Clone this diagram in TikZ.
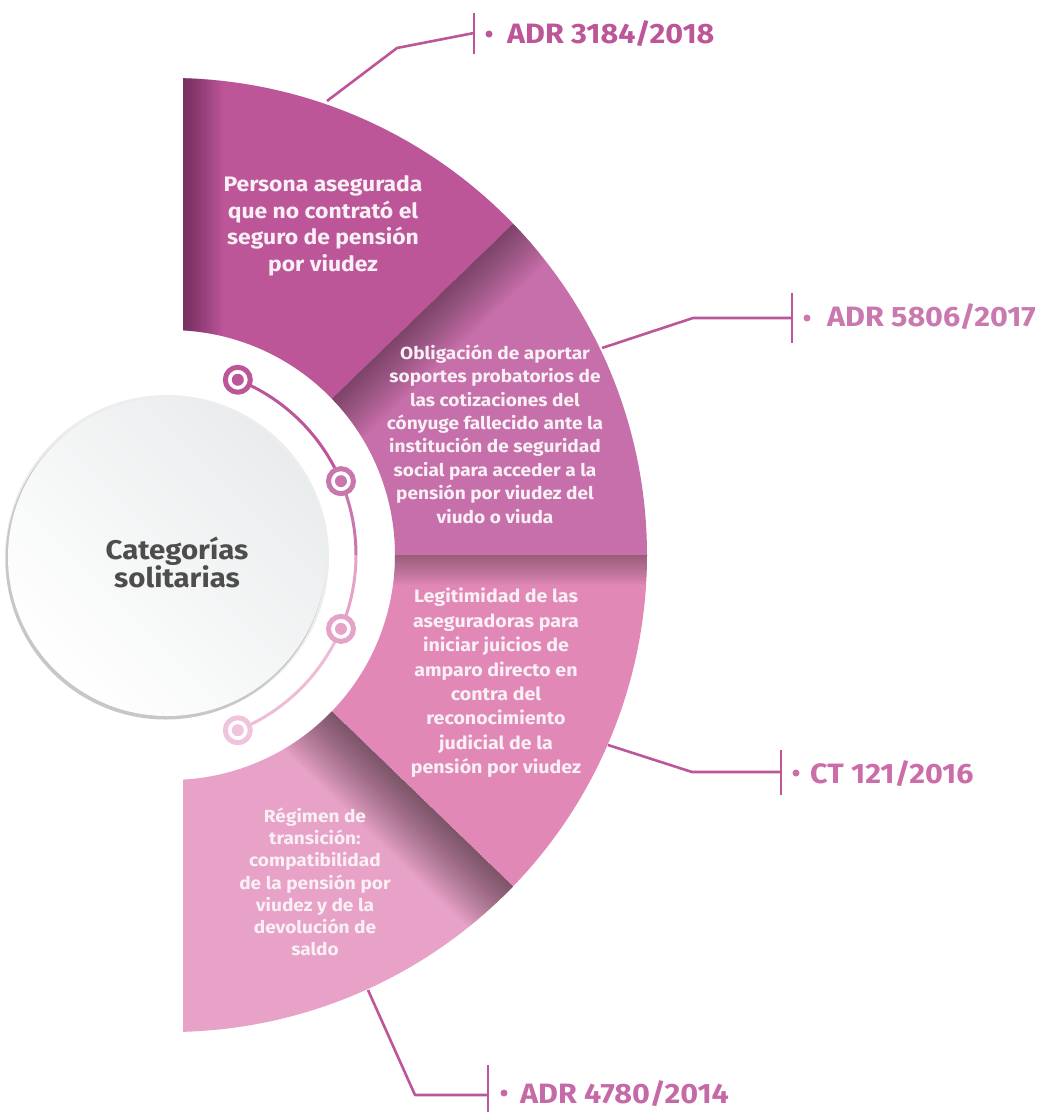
\documentclass[tikz,border=0pt]{standalone}
\usepackage{fontspec}
\setmainfont{Fira Sans}[FakeStretch=1.09]
\begin{document}
\begin{tikzpicture}[x=1pt,y=1pt,line join=round]
\definecolor{segA}{HTML}{BD5599}
\definecolor{segB}{HTML}{C66FAA}
\definecolor{segC}{HTML}{E188B6}
\definecolor{segD}{HTML}{E8A2C7}
\definecolor{arcA}{HTML}{BD5599}
\definecolor{arcB}{HTML}{C877AE}
\definecolor{arcC}{HTML}{E6A3C9}
\definecolor{arcD}{HTML}{EEBCD8}
\definecolor{ringD}{HTML}{F0C4DD}
\definecolor{labA}{HTML}{BD5599}
\definecolor{labB}{HTML}{C978B0}
\definecolor{labC}{HTML}{CC6CA8}
\definecolor{labD}{HTML}{C56AA7}
\definecolor{segtext}{HTML}{F8F0F5}
\definecolor{hubtext}{HTML}{4D4D4D}
\definecolor{hubtop}{HTML}{E9ECED}
\tikzset{
  segtxt/.style={align=center,text=segtext,inner sep=0pt,font=\bfseries},
  lead/.style={draw=segA,line width=2.6pt},
  tick/.style={draw=segA,line width=2.8pt},
  bullet/.style={circle,fill=#1,minimum size=7pt,inner sep=0pt},
  reflabel/.style={anchor=base west,inner sep=0pt,font=\fontsize{28}{32}\selectfont\bfseries},
  ringmark/.style={circle,draw=#1,line width=5pt,fill=white,minimum size=25pt,inner sep=0pt,
    path picture={\fill[#1] (path picture bounding box.center) circle[radius=6];}},
}
\useasboundingbox (0,0) rectangle (1037,-1112);
\fill[white] (0,0) rectangle (1037,-1112);

% centre of the half ring
\coordinate (C) at (170,-555);
\def\Ro{477}
\def\Ri{225}
\def\sector#1#2{([shift={(C)}]#1:\Ro) arc[start angle=#1,end angle=#2,radius=\Ro]
  -- ([shift={(C)}]#2:\Ri) arc[start angle=#2,end angle=#1,radius=\Ri] -- cycle}

\begin{scope}
  \clip (183,0) rectangle (1037,-1112);
  % four sectors
  \fill[segA] \sector{44}{100};
  \fill[segB] \sector{0}{44};
  \fill[segC] \sector{-44}{0};
  \fill[segD] \sector{-100}{-44};
  % folded-edge shadows
  \begin{scope}
    \clip \sector{44}{100};
    \foreach \d in {2,4,...,40} \fill[black,opacity=.02] (183,0) rectangle ({183+\d},-1112);
  \end{scope}
  \begin{scope}
    \clip \sector{0}{44};
    \foreach \d in {2.5,5,...,50} \fill[black,opacity=.021,shift={(C)},rotate=44] (0,0) rectangle (520,-\d);
  \end{scope}
  \begin{scope}
    \clip \sector{-44}{0};
    \foreach \d in {1.5,3,...,30} \fill[black,opacity=.017,shift={(C)}] (0,0) rectangle (520,-\d);
  \end{scope}
  \begin{scope}
    \clip \sector{-100}{-44};
    \foreach \d in {3,6,...,60} \fill[black,opacity=.028,shift={(C)},rotate=-44] (0,0) rectangle (520,-\d);
  \end{scope}
\end{scope}

% sector texts
\node[segtxt,font=\fontsize{21}{26.7}\selectfont\bfseries] (tA) at (323,-226)
  {Persona asegurada\\que no contrató el\\seguro de pensión\\por viudez};
\node[segtxt,font=\fontsize{17.5}{23.4}\selectfont\bfseries] (tB) at (495,-434)
  {Obligación de aportar\\soportes probatorios de\\las cotizaciones del\\cónyuge fallecido ante la\\institución de seguridad\\social para acceder a la\\pensión por viudez del\\viudo o viuda};
\node[segtxt,font=\fontsize{18}{24.4}\selectfont\bfseries] (tC) at (496,-683)
  {Legitimidad de las\\aseguradoras para\\iniciar juicios de\\amparo directo en\\contra del\\reconocimiento\\judicial de la\\pensión por viudez};
\node[segtxt,font=\fontsize{17.5}{22.2}\selectfont\bfseries] (tD) at (315,-882)
  {Régimen de\\transición:\\compatibilidad\\de la pensión por\\viudez y de la\\devolución de\\saldo};

% central disc
\fill[black!7] (167,-557) circle[radius=162];
\fill[black!22] (165.5,-559.5) circle[radius=160];
\shade[top color=hubtop,bottom color=white,shading angle=-45] (167,-557) circle[radius=159];
\node[align=center,text=hubtext,inner sep=0pt,font=\fontsize{27}{28}\selectfont\bfseries] (hub) at (177,-562)
  {Categorías\\solitarias};

% timeline arc with markers
\coordinate (T) at (167,-555);
\draw[arcA,line width=3pt] ([shift={(T)}]68:189) arc[start angle=68,end angle=23,radius=189];
\draw[arcB,line width=3pt] ([shift={(T)}]23:189) arc[start angle=23,end angle=0,radius=189];
\draw[arcC,line width=3pt] ([shift={(T)}]0:189) arc[start angle=0,end angle=-23,radius=189];
\draw[arcD,line width=3pt] ([shift={(T)}]-23:189) arc[start angle=-23,end angle=-68,radius=189];
\node[ringmark=arcA] (m1) at ([shift={(T)}]68:189) {};
\node[ringmark=arcB] (m2) at ([shift={(T)}]23:189) {};
\node[ringmark=arcC] (m3) at ([shift={(T)}]-23:189) {};
\node[ringmark=ringD] (m4) at ([shift={(T)}]-68:189) {};

% reference leaders and labels
\coordinate (a0) at (327,-101);
\coordinate (a1) at (397,-48);
\coordinate (a2) at (474,-33);
\coordinate (a3) at (474,-13);
\coordinate (a4) at (474,-54);
\draw[lead] (a0) -- (a1) -- (a2);
\draw[tick] (a3) -- (a4);
\node[bullet=labA] (da) at (489,-34) {};
\node[reflabel,text=labA] (la) at (507,-43) {ADR 3184/2018};

\coordinate (b0) at (602,-348);
\coordinate (b1) at (693,-318);
\coordinate (b2) at (792,-318);
\coordinate (b3) at (792,-293);
\coordinate (b4) at (792,-343);
\draw[lead] (b0) -- (b1) -- (b2);
\draw[tick] (b3) -- (b4);
\node[bullet=labB] (db) at (807,-318) {};
\node[reflabel,text=labB] (lb) at (827,-326) {ADR 5806/2017};

\coordinate (c0) at (608,-745);
\coordinate (c1) at (692,-772);
\coordinate (c2) at (781,-772);
\coordinate (c3) at (781,-750);
\coordinate (c4) at (781,-795);
\draw[lead] (c0) -- (c1) -- (c2);
\draw[tick] (c3) -- (c4);
\node[bullet=labC] (dc) at (796,-773) {};
\node[reflabel,text=labC] (lc) at (810,-783) {CT 121/2016};

\coordinate (d0) at (368,-990);
\coordinate (d1) at (415,-1095);
\coordinate (d2) at (488,-1095);
\coordinate (d3) at (488,-1065);
\coordinate (d4) at (488,-1112);
\draw[lead] (d0) -- (d1) -- (d2);
\draw[tick] (d3) -- (d4);
\node[bullet=labD] (dd) at (504,-1093) {};
\node[reflabel,text=labD] (ld) at (520,-1103) {ADR 4780/2014};
\end{tikzpicture}
\end{document}
